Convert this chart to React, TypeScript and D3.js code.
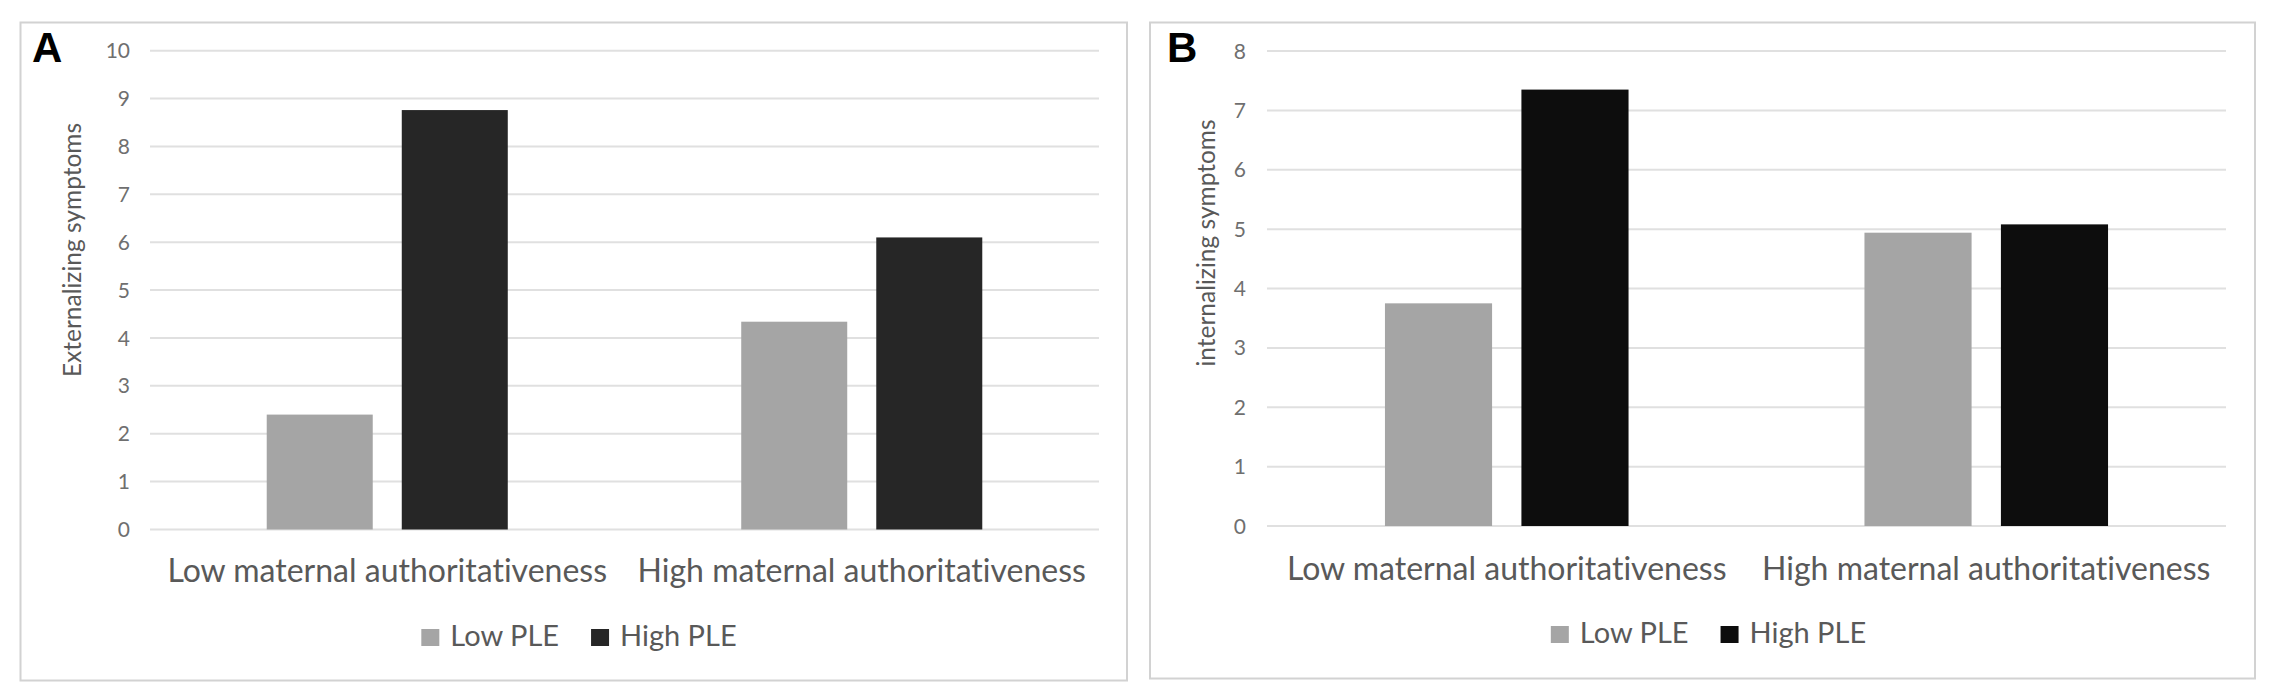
import { useEffect, useRef } from 'react'
import * as d3 from 'd3'

const CATEGORIES = ['Low maternal authoritativeness', 'High maternal authoritativeness']
const SERIES = ['Low PLE', 'High PLE']

// panel A: externalizing
const EXT_LOW_PLE = [2.4, 4.34]
const EXT_HIGH_PLE = [8.76, 6.1]
const EXT_TICKS = [0, 1, 2, 3, 4, 5, 6, 7, 8, 9, 10]

// panel B: internalizing
const INT_LOW_PLE = [3.75, 4.94]
const INT_HIGH_PLE = [7.35, 5.08]
const INT_TICKS = [0, 1, 2, 3, 4, 5, 6, 7, 8]

const W = 2274
const H = 694
const FONT = 'Lato, "Open Sans", sans-serif'

const PANELS = [
  {
    letter: 'A', title: 'Externalizing symptoms', low: EXT_LOW_PLE, high: EXT_HIGH_PLE, ticks: EXT_TICKS,
    box: { x: 20.5, y: 22.5, w: 1106.5, h: 658 },
    plot: { left: 150, right: 1099, top: 50.7, bottom: 529.5 },
    titleX: 81, titleY: 250, tickRight: 130, labelY: 582, legendY: 646,
    highColor: '#262626',
  },
  {
    letter: 'B', title: 'internalizing symptoms', low: INT_LOW_PLE, high: INT_HIGH_PLE, ticks: INT_TICKS,
    box: { x: 1150, y: 22.5, w: 1105, h: 656 },
    plot: { left: 1267, right: 2226, top: 51, bottom: 526 },
    titleX: 1215, titleY: 243, tickRight: 1246, labelY: 580, legendY: 643,
    highColor: '#0d0d0d',
  },
]

const LOW_COLOR = '#a5a5a5'

export default function App() {
  const svgRef = useRef<SVGSVGElement>(null)

  useEffect(() => {
    if (!svgRef.current) return
    const svg = d3.select(svgRef.current)
    svg.selectAll('*').remove()
    svg.append('rect').attr('width', W).attr('height', H).attr('fill', '#fff')

    PANELS.forEach((p) => {
      const g = svg.append('g').style('font-variant-ligatures', 'none')

      // frame
      g.append('rect').attr('x', p.box.x).attr('y', p.box.y)
        .attr('width', p.box.w).attr('height', p.box.h)
        .attr('fill', 'none').attr('stroke', '#d2d2d2').attr('stroke-width', 2)

      const yMax = p.ticks[p.ticks.length - 1]
      const y = d3.scaleLinear().domain([0, yMax]).range([p.plot.bottom, p.plot.top])
      const x0 = d3.scaleBand<string>().domain(CATEGORIES).range([p.plot.left, p.plot.right])
      const bw = x0.bandwidth()
      const x1 = d3.scaleBand<string>().domain(SERIES).range([bw * 0.246, bw * 0.754]).paddingInner(0.215)
      const color = d3.scaleOrdinal<string, string>().domain(SERIES).range([LOW_COLOR, p.highColor])

      // gridlines
      p.ticks.forEach((t) => {
        g.append('line').attr('x1', p.plot.left).attr('x2', p.plot.right)
          .attr('y1', y(t)).attr('y2', y(t))
          .attr('stroke', '#e0e0e0').attr('stroke-width', 2)
      })

      // tick labels
      p.ticks.forEach((t) => {
        g.append('text').attr('x', p.tickRight).attr('y', y(t)).attr('dy', '0.36em')
          .attr('text-anchor', 'end').attr('fill', '#6f6f6f')
          .attr('font-family', FONT).attr('font-size', 21).text(t)
      })

      // bars
      const rows = CATEGORIES.map((c, i) => ({ cat: c, vals: [p.low[i], p.high[i]] }))
      rows.forEach((r) => {
        r.vals.forEach((v, j) => {
          const s = SERIES[j]
          g.append('rect')
            .attr('x', (x0(r.cat) ?? 0) + (x1(s) ?? 0))
            .attr('y', y(v)).attr('width', x1.bandwidth()).attr('height', y(0) - y(v))
            .attr('fill', color(s))
        })
      })

      // category labels
      CATEGORIES.forEach((c) => {
        g.append('text').attr('x', (x0(c) ?? 0) + bw / 2).attr('y', p.labelY)
          .attr('text-anchor', 'middle').attr('fill', '#595959')
          .attr('font-family', FONT).attr('font-size', 32).text(c)
      })

      // axis title
      g.append('text').attr('transform', `translate(${p.titleX},${p.titleY}) rotate(-90)`)
        .attr('text-anchor', 'middle').attr('fill', '#595959')
        .attr('font-family', FONT).attr('font-size', 24.5).text(p.title)

      // panel letter
      g.append('text').attr('x', p.box.x + (p.letter === 'A' ? 11.5 : 17)).attr('y', 62)
        .attr('fill', '#000').attr('font-family', '"Liberation Sans", Arial, sans-serif')
        .attr('font-weight', 'bold').attr('font-size', 42).text(p.letter)

      // legend, centred in the panel
      const leg = g.append('g')
      let cx = 0
      SERIES.forEach((s, i) => {
        if (i > 0) cx += 32
        leg.append('rect').attr('x', cx).attr('y', p.legendY - 17).attr('width', 18).attr('height', 17)
          .attr('fill', color(s))
        cx += 29
        const t = leg.append('text').attr('x', cx).attr('y', p.legendY)
          .attr('fill', '#595959').attr('font-family', FONT).attr('font-size', 29).text(s)
        cx += (t.node() as SVGTextElement).getComputedTextLength()
      })
      const legCenter = p.box.x + 558.5
      leg.attr('transform', `translate(${legCenter - cx / 2},0)`)
    })

    return () => { svg.selectAll('*').remove() }
  }, [])

  return (
    <svg ref={svgRef} width={W} height={H}
      style={{ position: 'absolute', left: 0, top: 0, display: 'block' }} />
  )
}
